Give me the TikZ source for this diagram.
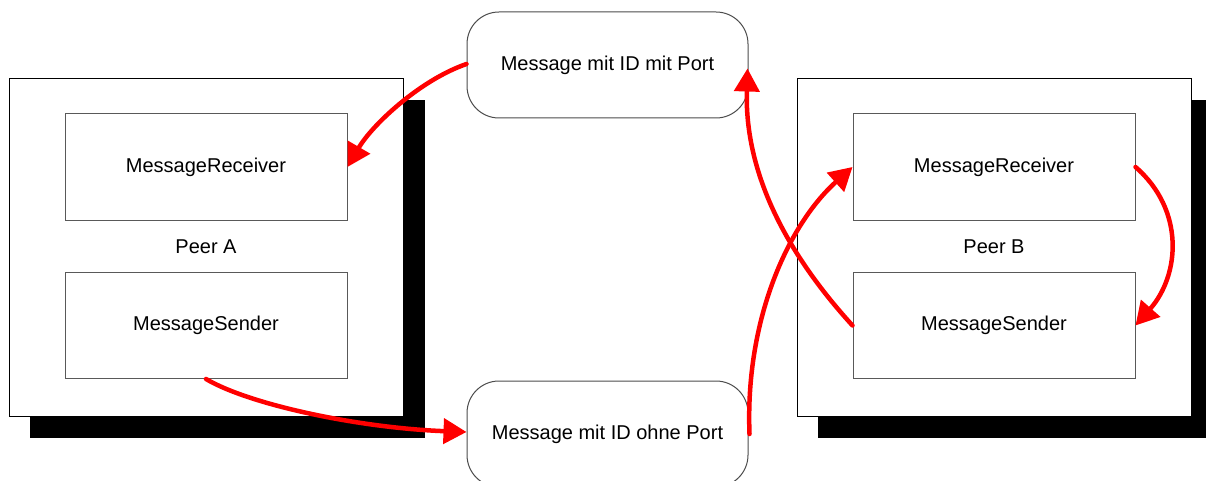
\documentclass[tikz,border=0pt]{standalone}
\usepackage{fontspec}
\setmainfont{Liberation Sans}
\usetikzlibrary{arrows.meta}
\begin{document}
\begin{tikzpicture}[x=1pt,y=-1pt,
  peerbox/.style={draw=black,fill=white,line width=1pt},
  shadowbox/.style={fill=black},
  partbox/.style={draw=black!65,fill=white,line width=1pt,minimum width=282pt,minimum height=106pt,font=\fontsize{20}{24}\selectfont},
  msgbox/.style={draw=black!70,fill=white,line width=1pt,rounded corners=32pt,minimum width=281pt,minimum height=106pt,font=\fontsize{20}{24}\selectfont},
  label/.style={font=\fontsize{20}{24}\selectfont},
  flow/.style={draw=red,line width=4.5pt,line cap=round,-{Triangle[length=23pt,width=25pt]}}]
\useasboundingbox (0,0) rectangle (1206,481);
% Peer A with drop shadow
\fill[shadowbox] (30,100) rectangle (425,438);
\filldraw[peerbox] (9,79) rectangle (403,416);
\node[partbox] (recvA) at (206,167) {MessageReceiver};
\node[partbox] (sendA) at (206,325.5) {MessageSender};
\node[label] (peerA) at (206,247) {Peer A};
% Peer B with drop shadow
\fill[shadowbox] (818,100) rectangle (1210,438);
\filldraw[peerbox] (797,79) rectangle (1191,416);
\node[partbox] (recvB) at (994,167) {MessageReceiver};
\node[partbox] (sendB) at (994,325.5) {MessageSender};
\node[label] (peerB) at (994,247) {Peer B};
% Messages
\node[msgbox] (withport) at (607.5,65) {Message mit ID mit Port};
\node[msgbox] (noport) at (607.5,434) {Message mit ID ohne Port};
% Message flow
\coordinate (a1) at ([yshift=1pt]withport.west);
\coordinate (b1) at (recvA.east);
\draw[flow] (a1) .. controls (420,80) and (372,125) .. (b1);
\coordinate (a2) at (sendA.south);
\coordinate (b2) at ([yshift=2pt]noport.west);
\draw[flow] (a2) .. controls (250,405) and (360,428) .. (b2);
\coordinate (a3) at ([xshift=1pt]noport.east);
\coordinate (b3) at (recvB.west);
\draw[flow] (a3) .. controls (745,320) and (788,225) .. (b3);
\coordinate (a4) at (sendB.west);
\coordinate (b4) at ([xshift=-1pt,yshift=50pt]withport.south east);
\draw[flow] (a4) .. controls (800,268) and (744,185) .. (b4);
\coordinate (a5) at (recvB.east);
\coordinate (b5) at (sendB.east);
\draw[flow] (a5) .. controls (1185,210) and (1180,275) .. (b5);
\end{tikzpicture}
\end{document}
